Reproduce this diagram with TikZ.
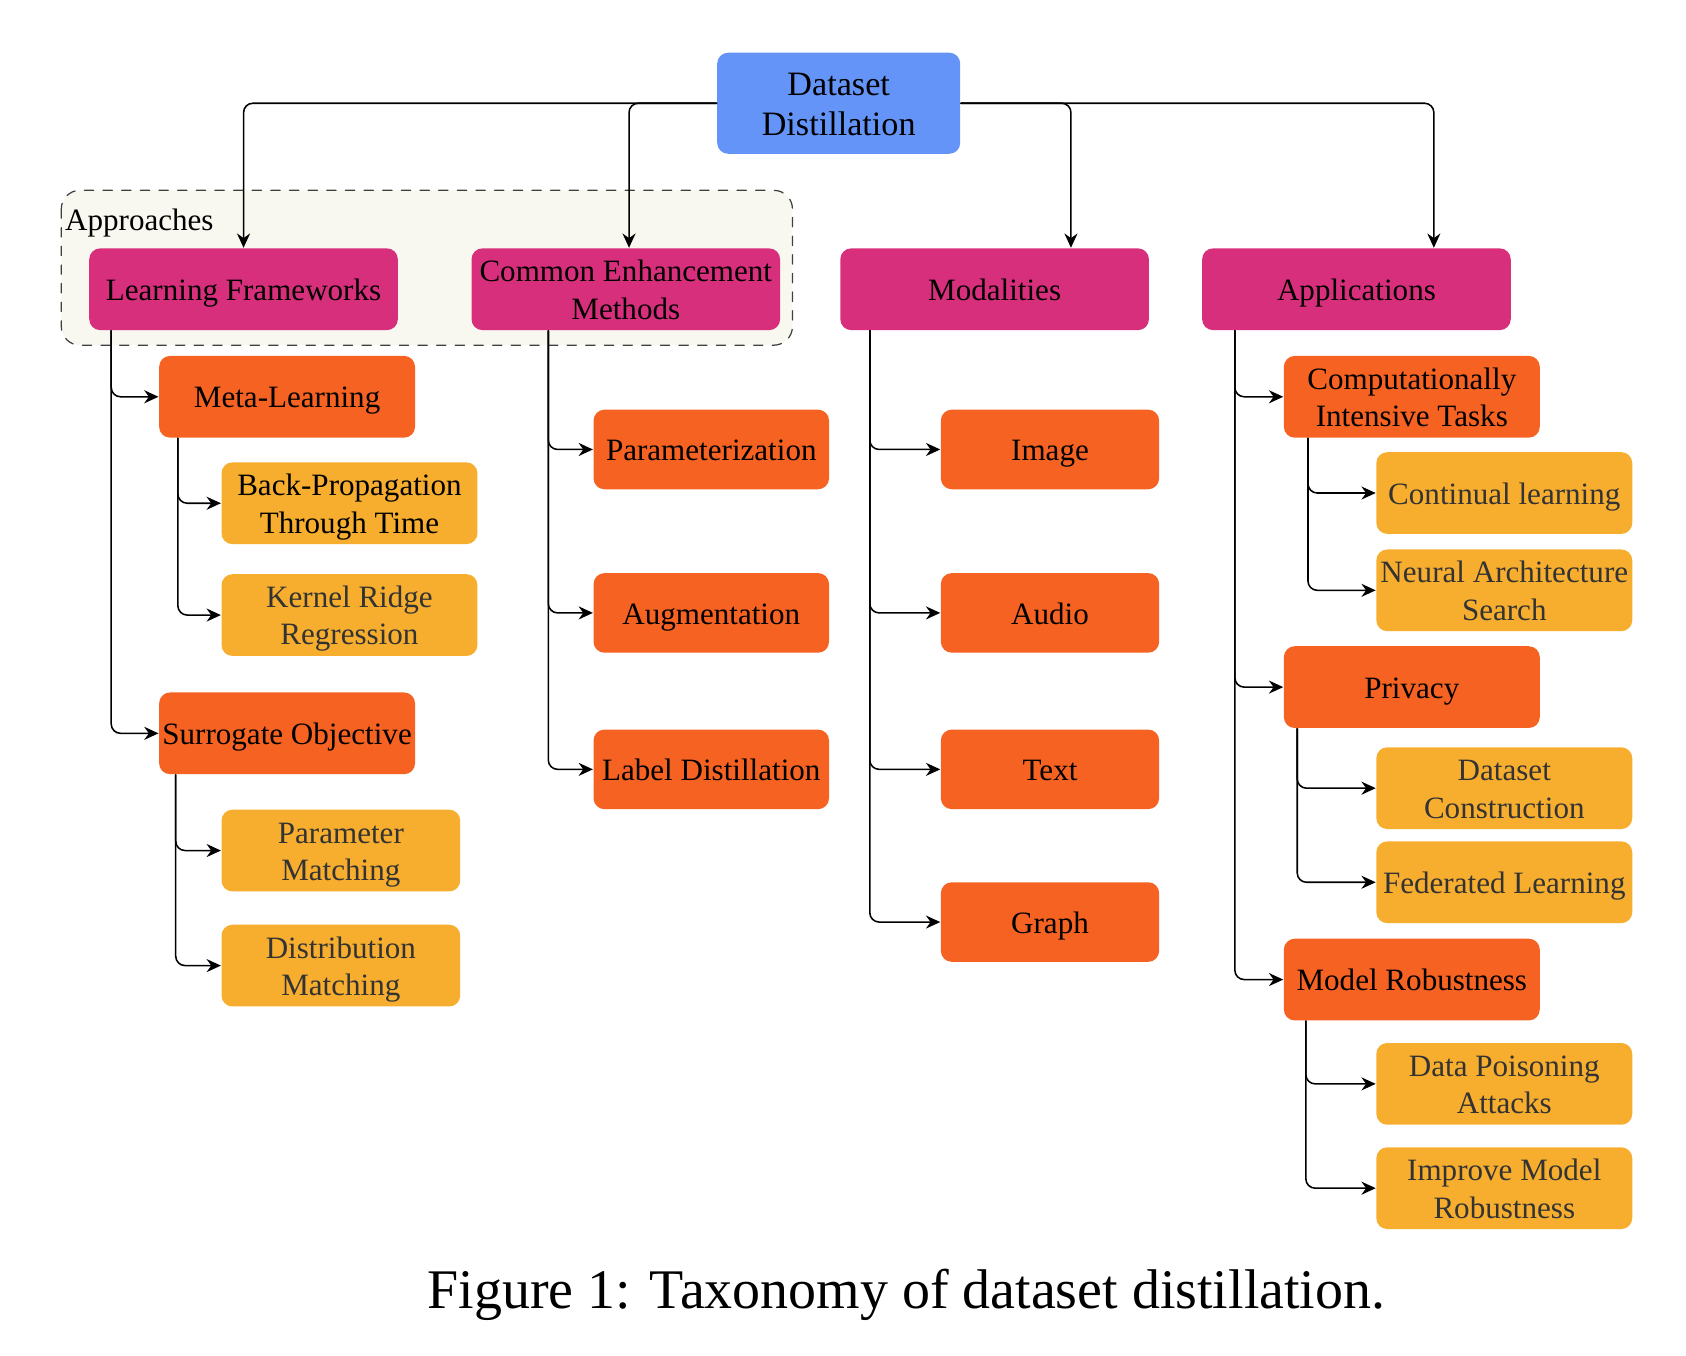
\documentclass[tikz,border=0pt]{standalone}
\usepackage{fontspec}
\setmainfont{Liberation Serif}
\usetikzlibrary{arrows.meta}
\definecolor{rootblue}{HTML}{6494F8}
\definecolor{catpink}{HTML}{D82F7D}
\definecolor{suborange}{HTML}{F56222}
\definecolor{leafyellow}{HTML}{F7AE2E}
\definecolor{groupfill}{HTML}{F8F7F0}
\definecolor{leaftext}{HTML}{333333}
\newlength\unitpx
\setlength\unitpx{0.346pt}
\newcommand\boxstrut{\rule{0pt}{0.94em}}

\begin{document}
\begin{tikzpicture}[line cap=round,line join=round,x=\unitpx,y=-\unitpx,
  >={Stealth[length=4.6pt,width=4.2pt,inset=1.5pt]},
  sz/.style 2 args={minimum width=#1\unitpx,minimum height=#2\unitpx},
  box/.style={rounded corners=3.5pt,inner sep=0pt,align=center,font=\fontsize{10}{12}\selectfont,
    execute at begin node={\boxstrut},execute at end node={\rule[-0.22em]{0pt}{0pt}}},
  rootbox/.style={box,fill=rootblue,sz={226}{94},font=\fontsize{11}{13}\selectfont},
  catbox/.style={box,fill=catpink,sz={287}{76}},
  subbox/.style={box,fill=suborange},
  leafbox/.style={box,fill=leafyellow,text=leaftext},
  link/.style={->,line width=0.5pt,rounded corners=3pt}]
\useasboundingbox (0,0) rectangle (1568,1261);
% group of approaches
\draw [dashed,fill=groupfill,draw=black!75,line width=0.4pt,rounded corners=6pt] (57,177) rectangle (737,321);
\node [anchor=west,inner sep=0pt,font=\fontsize{10}{12}\selectfont] (approaches) at (60,207) {Approaches};
% root and categories
\node [rootbox] (root) at (780,96) {\boxstrut Dataset\\Distillation};
\node [catbox] (lf) at (226.5,269) {Learning Frameworks};
\node [catbox] (cem) at (582,269) {\boxstrut Common Enhancement\\Methods};
\node [catbox] (mod) at (925,269) {Modalities};
\node [catbox] (app) at (1261.5,269) {Applications};
% learning frameworks
\node [subbox,sz={238}{76}] (meta) at (267,369) {Meta-Learning};
\node [subbox,sz={238}{76}] (surr) at (267,682) {Surrogate Objective};
\node [leafbox,sz={238}{76},text=black] (bptt) at (325,468) {\boxstrut Back-Propagation\\Through Time};
\node [leafbox,sz={238}{76}] (krr) at (325,572) {\boxstrut Kernel Ridge\\Regression};
\node [leafbox,sz={222}{76}] (pm) at (317,791) {\boxstrut Parameter\\Matching};
\node [leafbox,sz={222}{76}] (dm) at (317,898) {\boxstrut Distribution\\Matching};
% enhancement methods
\node [subbox,sz={219}{74}] (param) at (661.5,418) {Parameterization};
\node [subbox,sz={219}{74}] (aug) at (661.5,570) {Augmentation};
\node [subbox,sz={219}{74}] (label) at (661.5,715.5) {Label Distillation};
% modalities
\node [subbox,sz={203}{74}] (img) at (976.5,418) {Image};
\node [subbox,sz={203}{74}] (aud) at (976.5,570) {Audio};
\node [subbox,sz={203}{74}] (txt) at (976.5,715.5) {Text};
\node [subbox,sz={203}{74}] (gra) at (976.5,857.5) {Graph};
% applications
\node [subbox,sz={238}{76}] (cit) at (1313,369) {\boxstrut Computationally\\Intensive Tasks};
\node [subbox,sz={238}{76}] (priv) at (1313,639) {Privacy};
\node [subbox,sz={238}{76}] (mr) at (1313,911) {Model Robustness};
\node [leafbox,sz={238}{76}] (cl) at (1399,458.5) {Continual learning};
\node [leafbox,sz={238}{76}] (nas) at (1399,549) {\boxstrut Neural Architecture\\Search};
\node [leafbox,sz={238}{76}] (dc) at (1399,733) {\boxstrut Dataset\\Construction};
\node [leafbox,sz={238}{76}] (fl) at (1399,820.5) {Federated Learning};
\node [leafbox,sz={238}{76}] (dpa) at (1399,1008) {\boxstrut Data Poisoning\\Attacks};
\node [leafbox,sz={238}{76}] (imr) at (1399,1105) {\boxstrut Improve Model\\Robustness};
% caption
\node [font=\fontsize{18}{22}\selectfont] (caption) at (843,1204) {Figure 1: Taxonomy of dataset distillation.};
% connectors
\draw [link] (root.west) -| (lf.north);
\draw [link] (root.west) -| ([xshift=3\unitpx]cem.north);
\draw [link] (root.east) -| ([xshift=71\unitpx]mod.north);
\draw [link] (root.east) -| ([xshift=72\unitpx]app.north);
\draw [link] ([xshift=21\unitpx]lf.south west) |- (meta.west);
\draw [link] ([xshift=21\unitpx]lf.south west) |- (surr.west);
\draw [link] ([xshift=18\unitpx]meta.south west) |- (bptt.west);
\draw [link] ([xshift=18\unitpx]meta.south west) |- (krr.west);
\draw [link] ([xshift=16\unitpx]surr.south west) |- (pm.west);
\draw [link] ([xshift=16\unitpx]surr.south west) |- (dm.west);
\draw [link] ([xshift=72\unitpx]cem.south west) |- (param.west);
\draw [link] ([xshift=72\unitpx]cem.south west) |- (aug.west);
\draw [link] ([xshift=72\unitpx]cem.south west) |- (label.west);
\draw [link] ([xshift=28\unitpx]mod.south west) |- (img.west);
\draw [link] ([xshift=28\unitpx]mod.south west) |- (aud.west);
\draw [link] ([xshift=28\unitpx]mod.south west) |- (txt.west);
\draw [link] ([xshift=28\unitpx]mod.south west) |- (gra.west);
\draw [link] ([xshift=31\unitpx]app.south west) |- (cit.west);
\draw [link] ([xshift=31\unitpx]app.south west) |- (priv.west);
\draw [link] ([xshift=31\unitpx]app.south west) |- (mr.west);
\draw [link] ([xshift=23\unitpx]cit.south west) |- (cl.west);
\draw [link] ([xshift=23\unitpx]cit.south west) |- (nas.west);
\draw [link] ([xshift=13\unitpx]priv.south west) |- (dc.west);
\draw [link] ([xshift=13\unitpx]priv.south west) |- (fl.west);
\draw [link] ([xshift=21\unitpx]mr.south west) |- (dpa.west);
\draw [link] ([xshift=21\unitpx]mr.south west) |- (imr.west);
\end{tikzpicture}
\end{document}
